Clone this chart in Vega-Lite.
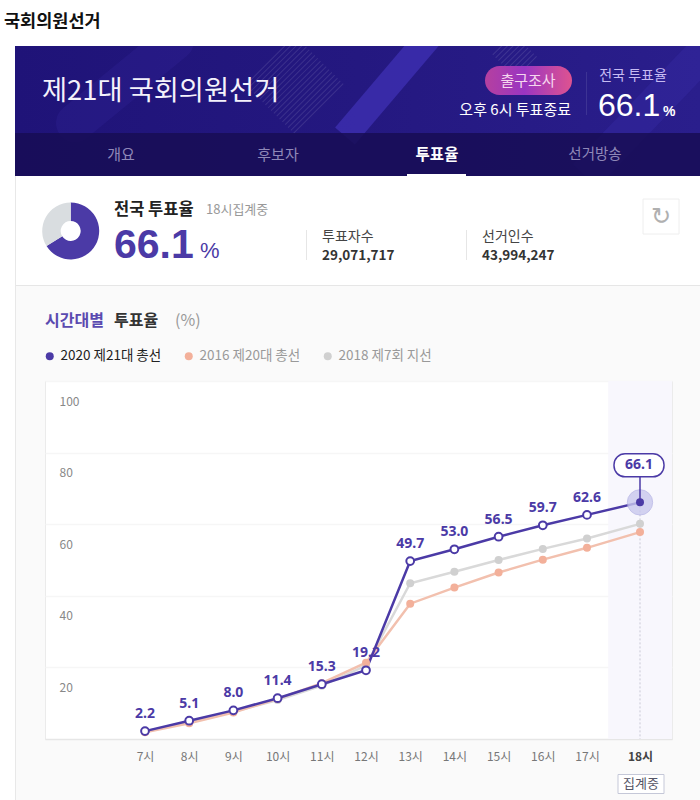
{
"$schema":"https://vega.github.io/schema/vega-lite/v6.json",
"width":627,"height":358,
"autosize":{"type":"none"},
"padding":{"left":45,"top":381,"right":28,"bottom":61},
"background":"#fafafa",
"view":{"fill":"#ffffff","stroke":"#ebebeb"},
"config":{"font":"Noto Sans CJK KR","text":{"font":"Noto Sans CJK KR"}},
"datasets":{
"turnout":[
{"hour":7,"series":"2018 제7회 지선","rate":2.1},{"hour":8,"series":"2018 제7회 지선","rate":4.7},{"hour":9,"series":"2018 제7회 지선","rate":7.6},{"hour":10,"series":"2018 제7회 지선","rate":10.9},{"hour":11,"series":"2018 제7회 지선","rate":14.9},{"hour":12,"series":"2018 제7회 지선","rate":20.5},{"hour":13,"series":"2018 제7회 지선","rate":43.5},{"hour":14,"series":"2018 제7회 지선","rate":46.7},{"hour":15,"series":"2018 제7회 지선","rate":50.0},{"hour":16,"series":"2018 제7회 지선","rate":53.1},{"hour":17,"series":"2018 제7회 지선","rate":56.0},{"hour":18,"series":"2018 제7회 지선","rate":60.1},
{"hour":7,"series":"2016 제20대 총선","rate":1.9},{"hour":8,"series":"2016 제20대 총선","rate":4.4},{"hour":9,"series":"2016 제20대 총선","rate":7.4},{"hour":10,"series":"2016 제20대 총선","rate":11.2},{"hour":11,"series":"2016 제20대 총선","rate":15.6},{"hour":12,"series":"2016 제20대 총선","rate":21.3},{"hour":13,"series":"2016 제20대 총선","rate":37.8},{"hour":14,"series":"2016 제20대 총선","rate":42.3},{"hour":15,"series":"2016 제20대 총선","rate":46.5},{"hour":16,"series":"2016 제20대 총선","rate":50.1},{"hour":17,"series":"2016 제20대 총선","rate":53.4},{"hour":18,"series":"2016 제20대 총선","rate":57.8},
{"hour":7,"series":"2020 제21대 총선","rate":2.2},{"hour":8,"series":"2020 제21대 총선","rate":5.1},{"hour":9,"series":"2020 제21대 총선","rate":8.0},{"hour":10,"series":"2020 제21대 총선","rate":11.4},{"hour":11,"series":"2020 제21대 총선","rate":15.3},{"hour":12,"series":"2020 제21대 총선","rate":19.2},{"hour":13,"series":"2020 제21대 총선","rate":49.7},{"hour":14,"series":"2020 제21대 총선","rate":53.0},{"hour":15,"series":"2020 제21대 총선","rate":56.5},{"hour":16,"series":"2020 제21대 총선","rate":59.7},{"hour":17,"series":"2020 제21대 총선","rate":62.6},{"hour":18,"series":"2020 제21대 총선","rate":66.1}
],
"share":[{"part":"투표","value":66.1},{"part":"미투표","value":33.9}]
},
"encoding":{
"x":{"type":"quantitative","scale":{"domain":[5.74,7,17,18,18.6],"range":[0,100,542,595,627],"nice":false,"zero":false},
"axis":{"title":null,"values":[7,8,9,10,11,12,13,14,15,16,17,18],"grid":false,"ticks":false,"domainColor":"#e6e6e6","domainWidth":1.5,"labelExpr":"datum.value+'시'","labelFontSize":12,"labelPadding":12,"labelFlush":false,"labelColor":{"condition":{"test":"datum.value==18","value":"#444444"},"value":"#777777"},"labelFontWeight":{"condition":{"test":"datum.value==18","value":"bold"},"value":"normal"}}},
"y":{"type":"quantitative","scale":{"domain":[0,100],"nice":false},
"axis":{"title":null,"values":[20,40,60,80,100],"grid":true,"gridColor":"#f6f6f6","gridWidth":1.5,"ticks":false,"domain":false,"labelAlign":"left","labelPadding":-14,"labelOffset":20,"labelFontSize":12,"labelColor":"#888888","labelBound":false,"labelFlush":false}}
},
"layer":[
{"data":{"values":[{"hour":18}]},"mark":{"type":"rect","fill":"#f8f7fd"},"encoding":{"x":{"datum":17.4},"x2":{"datum":18.6},"y":{"datum":100},"y2":{"datum":0}}},
{"data":{"name":"turnout"},"transform":[{"filter":"datum.hour==18 && datum.series=='2020 제21대 총선'"}],"mark":{"type":"rule","stroke":"#c9c9d6","strokeDash":[2,2],"strokeWidth":1},"encoding":{"x":{"field":"hour"},"y":{"field":"rate"},"y2":{"datum":0}}},
{"data":{"name":"turnout"},"mark":{"type":"line","strokeWidth":2.5},"encoding":{"x":{"field":"hour"},"y":{"field":"rate"},"stroke":{"field":"series","type":"nominal","legend":null,"scale":{"domain":["2018 제7회 지선","2016 제20대 총선","2020 제21대 총선"],"range":["#d9d9d9","#f2c0ae","#4b3aa6"]}}}},
{"data":{"name":"turnout"},"transform":[{"filter":"datum.hour==18 && datum.series=='2020 제21대 총선'"}],"mark":{"type":"point","filled":true,"size":640,"fill":"#c9c8ee","opacity":0.8,"stroke":"#b7b5e6","strokeWidth":1},"encoding":{"x":{"field":"hour"},"y":{"field":"rate"}}},
{"data":{"name":"turnout"},"transform":[{"filter":"datum.series!='2020 제21대 총선' || datum.hour==18"}],"mark":{"type":"point","filled":true,"size":64,"opacity":1},"encoding":{"x":{"field":"hour"},"y":{"field":"rate"},"color":{"field":"series","type":"nominal","scale":{"domain":["2020 제21대 총선","2016 제20대 총선","2018 제7회 지선"],"range":["#4b3aa6","#f3b09a","#d0d0d0"]},
"legend":{"title":null,"orient":"none","legendX":-2,"legendY":-32,"direction":"horizontal","columns":3,"columnPadding":20,"symbolType":"circle","symbolSize":64,"labelFontSize":13.5,"labelOffset":4,"labelLimit":200,"labelColor":{"expr":"datum.value=='2020 제21대 총선'?'#222222':'#999999'"}}}}},
{"data":{"name":"turnout"},"transform":[{"filter":"datum.series=='2020 제21대 총선' && datum.hour<18"}],"mark":{"type":"point","filled":true,"fill":"#ffffff","stroke":"#4b3aa6","strokeWidth":2,"size":60,"opacity":1},"encoding":{"x":{"field":"hour"},"y":{"field":"rate"}}},
{"data":{"name":"turnout"},"transform":[{"filter":"datum.series=='2020 제21대 총선' && datum.hour<18"}],"mark":{"type":"text","font":"Noto Sans","fontWeight":"bold","fontSize":14,"fill":"#4b3aa6","baseline":"middle","dy":-17},"encoding":{"x":{"field":"hour"},"y":{"field":"rate"},"text":{"field":"rate","format":".1f"}}},
{"data":{"name":"turnout"},"transform":[{"filter":"datum.series=='2020 제21대 총선' && datum.hour==18"}],"mark":{"type":"rule","stroke":"#4b3aa6","strokeWidth":1.5},"encoding":{"x":{"field":"hour"},"y":{"field":"rate"},"y2":{"datum":73.2}}},
{"data":{"name":"turnout"},"transform":[{"filter":"datum.series=='2020 제21대 총선' && datum.hour==18"}],"mark":{"type":"rect","width":50,"height":23,"cornerRadius":11,"fill":"#ffffff","stroke":"#4b3aa6","strokeWidth":1.5,"yOffset":-37,"xOffset":-1},"encoding":{"x":{"field":"hour"},"y":{"field":"rate"}}},
{"data":{"name":"turnout"},"transform":[{"filter":"datum.series=='2020 제21대 총선' && datum.hour==18"}],"mark":{"type":"text","font":"Noto Sans","fontWeight":"bold","fontSize":14,"fill":"#4b3aa6","baseline":"middle","dy":-37,"dx":-1},"encoding":{"x":{"field":"hour"},"y":{"field":"rate"},"text":{"field":"rate","format":".1f"}}},
{"data":{"values":[{"tag":"집계중"}]},"mark":{"type":"rect","width":46,"height":19,"fill":"#ffffff","stroke":"#c5c8d8","strokeWidth":1,"yOffset":45,"xOffset":1},"encoding":{"x":{"datum":18},"y":{"datum":0}}},
{"data":{"values":[{"tag":"집계중"}]},"mark":{"type":"text","fontSize":13,"fill":"#555566","baseline":"middle","dy":45,"dx":1},"encoding":{"x":{"datum":18},"y":{"datum":0},"text":{"field":"tag"}}},

{"data":{"values":[{"part":"page edge"}]},"mark":{"type":"rect","fill":"#ffffff","x":-45,"x2":-30,"y":-381,"y2":419},"encoding":{}},
{"data":{"values":[{"part":"card edge"}]},"mark":{"type":"rect","fill":"#e8e8e8","x":-30,"x2":-29,"y":-205,"y2":419},"encoding":{}},
{"data":{"values":[{"part":"banner"}]},"mark":{"type":"rect","x":-30,"x2":655,"y":-335,"y2":-205,"fill":{"gradient":"linear","x1":0,"y1":0,"x2":1,"y2":0,"stops":[{"offset":0,"color":"#1f1378"},{"offset":0.5,"color":"#241880"},{"offset":1,"color":"#2a1e8c"}]}},"encoding":{}},
{"data":{"values":[{"part":"stripe"}]},"mark":{"type":"rule","stroke":"#3a2ea8","strokeWidth":38,"opacity":0.2,"strokeCap":"round"},"encoding":{"x":{"value":30},"y":{"value":-258},"x2":{"value":130},"y2":{"value":-340}}},
{"data":{"values":[{"part":"stripe"}]},"mark":{"type":"rule","stroke":"#3f30b4","strokeWidth":26,"opacity":0.75},"encoding":{"x":{"value":300},"y":{"value":-245},"x2":{"value":385},"y2":{"value":-345}}},
{"data":{"values":[{"part":"stripe"}]},"mark":{"type":"rule","stroke":"#3328a0","strokeWidth":34,"opacity":0.5},"encoding":{"x":{"value":540},"y":{"value":-205},"x2":{"value":660},"y2":{"value":-330}}},
{"data":{"values":[{"part":"hatch"}]},"mark":{"type":"rule","stroke":"#ffffff","strokeWidth":70,"strokeDash":[1,3],"opacity":0.11},"encoding":{"x":{"value":225},"y":{"value":-321},"x2":{"value":275},"y2":{"value":-271}}},
{"data":{"values":[{"part":"hatch"}]},"mark":{"type":"rule","stroke":"#ffffff","strokeWidth":30,"strokeDash":[1,3],"opacity":0.11},"encoding":{"x":{"value":458},"y":{"value":-337},"x2":{"value":482},"y2":{"value":-313}}},
{"data":{"values":[{"part":"heading ground"}]},"mark":{"type":"rect","fill":"#ffffff","x":-30,"x2":655,"y":-381,"y2":-335},"encoding":{}},
{"data":{"values":[{"part":"nav"}]},"mark":{"type":"rect","fill":"#170d55","opacity":0.85,"x":-30,"x2":655,"y":-248,"y2":-205},"encoding":{}},
{"data":{"values":[{"part":"summary"}]},"mark":{"type":"rect","fill":"#ffffff","x":-29,"x2":655,"y":-205,"y2":-96},"encoding":{}},
{"data":{"values":[{"part":"summary edge"}]},"mark":{"type":"rect","fill":"#e6e6e6","x":-29,"x2":655,"y":-96,"y2":-95},"encoding":{}},
{"data":{"values":[{"part":"tab mark"}]},"mark":{"type":"rect","fill":"#ffffff","x":362,"x2":421,"y":-207,"y2":-205},"encoding":{}},
{"data":{"values":[{"part":"pill"}]},"mark":{"type":"rect","x":440,"x2":527,"y":-315,"y2":-286,"cornerRadius":14.5,"fill":{"gradient":"linear","x1":0,"y1":0,"x2":1,"y2":0,"stops":[{"offset":0,"color":"#b5409f"},{"offset":0.45,"color":"#9a35c2"},{"offset":1,"color":"#de5390"}]}},"encoding":{}},
{"data":{"values":[{"part":"divider"}]},"mark":{"type":"rect","fill":"#ffffff","opacity":0.1,"x":541,"x2":542,"y":-309,"y2":-266},"encoding":{}},
{"data":{"values":[{"part":"divider"}]},"mark":{"type":"rect","fill":"#e6e6e6","x":261,"x2":262,"y":-151,"y2":-121},"encoding":{}},
{"data":{"values":[{"part":"divider"}]},"mark":{"type":"rect","fill":"#e6e6e6","x":421,"x2":422,"y":-151,"y2":-121},"encoding":{}},
{"data":{"values":[{"part":"button"}]},"mark":{"type":"rect","fill":"#ffffff","stroke":"#eeeeee","x":598,"x2":634,"y":-182,"y2":-147},"encoding":{}},
{"data":{"name":"share"},"mark":{"type":"arc","outerRadius":28.5,"innerRadius":10},"encoding":{"x":{"value":25.7},"y":{"value":-150},"theta":{"field":"value","type":"quantitative","stack":true},"order":{"field":"value","sort":"descending"},"fill":{"condition":{"test":"datum.part=='투표'","value":"#4b3aa6"},"value":"#d9dde0"}}},

{"data":{"values":[{"t":"국회의원선거"}]},"mark":{"type":"text","x":-41,"y":-359,"align":"left","baseline":"middle","fontSize":17.5,"fontWeight":"bold","fill":"#111111"},"encoding":{"text":{"field":"t"}}},
{"data":{"values":[{"t":"제21대 국회의원선거"}]},"mark":{"type":"text","x":-3,"y":-289,"align":"left","baseline":"middle","fontSize":27.3,"fill":"#f4f2fb"},"encoding":{"text":{"field":"t"}}},
{"data":{"values":[{"t":"출구조사"}]},"mark":{"type":"text","x":483,"y":-300,"align":"center","baseline":"middle","fontSize":15,"fill":"#f6d6ee"},"encoding":{"text":{"field":"t"}}},
{"data":{"values":[{"t":"오후 6시 투표종료"}]},"mark":{"type":"text","x":526,"y":-271,"align":"right","baseline":"middle","fontSize":15,"fill":"#ffffff"},"encoding":{"text":{"field":"t"}}},
{"data":{"values":[{"t":"전국 투표율"}]},"mark":{"type":"text","x":588,"y":-305,"align":"center","baseline":"middle","fontSize":14,"fill":"#c6bbf2"},"encoding":{"text":{"field":"t"}}},
{"data":{"values":[{"t":"66.1"}]},"mark":{"type":"text","x":553,"y":-265,"align":"left","baseline":"alphabetic","font":"Liberation Sans","fontSize":32,"fill":"#ffffff"},"encoding":{"text":{"field":"t"}}},
{"data":{"values":[{"t":"%"}]},"mark":{"type":"text","x":618,"y":-265,"align":"left","baseline":"alphabetic","font":"Liberation Sans","fontSize":14,"fontWeight":"bold","fill":"#ffffff"},"encoding":{"text":{"field":"t"}}},
{"data":{"values":[{"t":"개요"}]},"mark":{"type":"text","x":76,"y":-226,"align":"center","baseline":"middle","fontSize":15,"fill":"#8f88b8"},"encoding":{"text":{"field":"t"}}},
{"data":{"values":[{"t":"후보자"}]},"mark":{"type":"text","x":233,"y":-226,"align":"center","baseline":"middle","fontSize":15,"fill":"#8f88b8"},"encoding":{"text":{"field":"t"}}},
{"data":{"values":[{"t":"투표율"}]},"mark":{"type":"text","x":392,"y":-226,"align":"center","baseline":"middle","fontSize":15.5,"fontWeight":"bold","fill":"#ffffff"},"encoding":{"text":{"field":"t"}}},
{"data":{"values":[{"t":"선거방송"}]},"mark":{"type":"text","x":550,"y":-226,"align":"center","baseline":"middle","fontSize":14.5,"fill":"#8f88b8"},"encoding":{"text":{"field":"t"}}},
{"data":{"values":[{"t":"전국 투표율"}]},"mark":{"type":"text","x":69,"y":-171,"align":"left","baseline":"middle","fontSize":16.5,"fontWeight":"bold","fill":"#222222"},"encoding":{"text":{"field":"t"}}},
{"data":{"values":[{"t":"18시집계중"}]},"mark":{"type":"text","x":161,"y":-171,"align":"left","baseline":"middle","fontSize":13,"fill":"#999999"},"encoding":{"text":{"field":"t"}}},
{"data":{"values":[{"t":"66.1"}]},"mark":{"type":"text","x":69,"y":-123,"align":"left","baseline":"alphabetic","font":"Liberation Sans","fontWeight":"bold","fontSize":41,"fill":"#4b3aa6"},"encoding":{"text":{"field":"t"}}},
{"data":{"values":[{"t":"%"}]},"mark":{"type":"text","x":155,"y":-123,"align":"left","baseline":"alphabetic","font":"Liberation Sans","fontSize":22,"fill":"#4b3aa6"},"encoding":{"text":{"field":"t"}}},
{"data":{"values":[{"t":"투표자수"}]},"mark":{"type":"text","x":277,"y":-144,"align":"left","baseline":"middle","fontSize":14,"fill":"#444444"},"encoding":{"text":{"field":"t"}}},
{"data":{"values":[{"t":"29,071,717"}]},"mark":{"type":"text","x":277,"y":-125,"align":"left","baseline":"middle","fontSize":13.5,"fontWeight":"bold","fill":"#333333"},"encoding":{"text":{"field":"t"}}},
{"data":{"values":[{"t":"선거인수"}]},"mark":{"type":"text","x":437,"y":-144,"align":"left","baseline":"middle","fontSize":14,"fill":"#444444"},"encoding":{"text":{"field":"t"}}},
{"data":{"values":[{"t":"43,994,247"}]},"mark":{"type":"text","x":437,"y":-125,"align":"left","baseline":"middle","fontSize":13.5,"fontWeight":"bold","fill":"#333333"},"encoding":{"text":{"field":"t"}}},
{"data":{"values":[{"t":"↻"}]},"mark":{"type":"text","x":616,"y":-164,"align":"center","baseline":"middle","font":"DejaVu Sans","fontSize":24,"fill":"#b0b0b0"},"encoding":{"text":{"field":"t"}}},
{"data":{"values":[{"t":"시간대별"}]},"mark":{"type":"text","x":0,"y":-60,"align":"left","baseline":"middle","fontSize":16,"fontWeight":"bold","fill":"#5a4ab0"},"encoding":{"text":{"field":"t"}}},
{"data":{"values":[{"t":"투표율"}]},"mark":{"type":"text","x":69,"y":-60,"align":"left","baseline":"middle","fontSize":16,"fontWeight":"bold","fill":"#333333"},"encoding":{"text":{"field":"t"}}},
{"data":{"values":[{"t":"(%)"}]},"mark":{"type":"text","x":130,"y":-60,"align":"left","baseline":"middle","fontSize":16,"fill":"#999999"},"encoding":{"text":{"field":"t"}}}
]
}
